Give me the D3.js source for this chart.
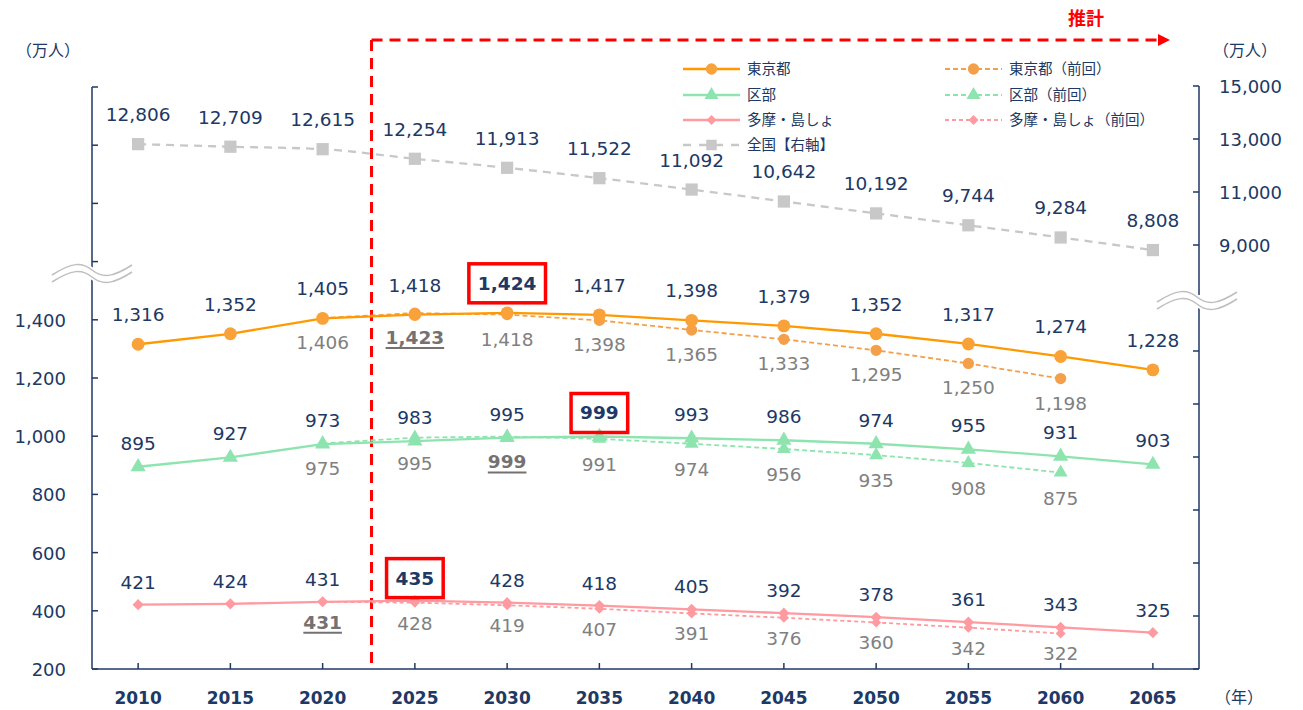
<!DOCTYPE html>
<html>
<head>
<meta charset="utf-8">
<script src="https://cdn.jsdelivr.net/npm/d3@7"></script>
<style>
  body { margin: 0; background: #fff; }
  svg text { font-family: "DejaVu Sans", "Noto Sans CJK JP", sans-serif; }
  .jp { font-family: "Noto Sans CJK JP", sans-serif; }
</style>
</head>
<body>
<svg id="chart" width="1303" height="710"></svg>
<script>
// データ
const years = [2010, 2015, 2020, 2025, 2030, 2035, 2040, 2045, 2050, 2055, 2060, 2065];
const prevYears = [2020, 2025, 2030, 2035, 2040, 2045, 2050, 2055, 2060];

const tokyo = [1316, 1352, 1405, 1418, 1424, 1417, 1398, 1379, 1352, 1317, 1274, 1228];
const tokyoPrev = [1406, 1423, 1418, 1398, 1365, 1333, 1295, 1250, 1198];
const ku = [895, 927, 973, 983, 995, 999, 993, 986, 974, 955, 931, 903];
const kuPrev = [975, 995, 999, 991, 974, 956, 935, 908, 875];
const tama = [421, 424, 431, 435, 428, 418, 405, 392, 378, 361, 343, 325];
const tamaPrev = [431, 428, 419, 407, 391, 376, 360, 342, 322];
const zenkoku = [12806, 12709, 12615, 12254, 11913, 11522, 11092, 10642, 10192, 9744, 9284, 8808];

// ピーク（強調）
const peakNow = { tokyo: 2030, ku: 2035, tama: 2025 };
const peakPrev = { tokyo: 2025, ku: 2030, tama: 2020 };

const leftTicks = d3.range(200, 2201, 200);
const leftLabelMax = 1400;
const rightTicks = d3.range(-7000, 15001, 2000);
const rightLabelMin = 9000;

const navy = "#203864";
const grayText = "#808080";

const svg = d3.select("#chart");

const x = d3.scalePoint().domain(years).range([92, 1199]).padding(0.5);
const yL = d3.scaleLinear().domain([200, 2200]).range([669, 87]);
const yR = d3.scaleLinear().domain([-7000, 15000]).range([669, 86]);

const fmt = d3.format(",");

// 系列の設定
const series = [
  { key: "tokyo", name: "東京都", vals: tokyo, yrs: years, color: "#FF9900", mcolor: "#F9A23A", dash: null, sym: "circle", up: 23, prev: false, scale: yL },
  { key: "tokyo", name: "東京都（前回）", vals: tokyoPrev, yrs: prevYears, color: "#F4A04A", mcolor: "#F4A04A", dash: "5,3", sym: "circle", down: 31, prev: true, scale: yL },
  { key: "ku", name: "区部", vals: ku, yrs: years, color: "#8EE4AF", mcolor: "#8EE4AF", dash: null, sym: "tri", up: 17, prev: false, scale: yL },
  { key: "ku", name: "区部（前回）", vals: kuPrev, yrs: prevYears, color: "#8EE4AF", mcolor: "#8EE4AF", dash: "5,3", sym: "tri", down: 32, prev: true, scale: yL },
  { key: "tama", name: "多摩・島しょ", vals: tama, yrs: years, color: "#FF9AA0", mcolor: "#FF9AA0", dash: null, sym: "dia", up: 16, prev: false, scale: yL },
  { key: "tama", name: "多摩・島しょ（前回）", vals: tamaPrev, yrs: prevYears, color: "#FF9AA0", mcolor: "#FF9AA0", dash: "4,3", sym: "dia", down: 27, prev: true, scale: yL },
  { key: "zen", name: "全国【右軸】", vals: zenkoku, yrs: years, color: "#C8C8C8", mcolor: "#C8C8C8", dash: "8,6", sym: "sq", up: 23, prev: false, scale: yR }
];

function symPath(sym, prev) {
  if (sym === "circle") return d3.symbol(d3.symbolCircle, prev ? 100 : 130)();
  if (sym === "tri") return d3.symbol(d3.symbolTriangle, prev ? 85 : 100)();
  if (sym === "dia") return d3.symbol(d3.symbolSquare, prev ? 50 : 62)();
  return d3.symbol(d3.symbolSquare, 150)();
}
function symRot(sym) { return sym === "dia" ? " rotate(45)" : ""; }

// 軸
const axisG = svg.append("g");
axisG.append("line").attr("x1", 92).attr("x2", 92).attr("y1", yL(2200)).attr("y2", 669)
  .attr("stroke", navy).attr("stroke-width", 1.5);
axisG.append("line").attr("x1", 1199).attr("x2", 1199).attr("y1", yR(15000)).attr("y2", 669)
  .attr("stroke", navy).attr("stroke-width", 1.5);
axisG.append("line").attr("x1", 92).attr("x2", 1199).attr("y1", 669).attr("y2", 669)
  .attr("stroke", navy).attr("stroke-width", 1.5);

leftTicks.forEach(t => {
  axisG.append("line").attr("x1", 92).attr("x2", 98).attr("y1", yL(t)).attr("y2", yL(t))
    .attr("stroke", navy).attr("stroke-width", 1.5);
  if (t <= leftLabelMax) {
    axisG.append("text").attr("x", 66).attr("y", yL(t) + 7).attr("text-anchor", "end")
      .attr("font-size", 18).attr("fill", navy).text(fmt(t));
  }
});
rightTicks.forEach(t => {
  axisG.append("line").attr("x1", 1193).attr("x2", 1199).attr("y1", yR(t)).attr("y2", yR(t))
    .attr("stroke", navy).attr("stroke-width", 1.5);
  if (t >= rightLabelMin) {
    axisG.append("text").attr("x", 1219).attr("y", yR(t) + 7).attr("text-anchor", "start")
      .attr("font-size", 18).attr("fill", navy).text(fmt(t));
  }
});
years.forEach(yr => {
  axisG.append("line").attr("x1", x(yr)).attr("x2", x(yr)).attr("y1", 663).attr("y2", 669)
    .attr("stroke", navy).attr("stroke-width", 1.5);
  axisG.append("text").attr("x", x(yr)).attr("y", 704).attr("text-anchor", "middle")
    .attr("font-size", 17).attr("font-weight", "bold").attr("fill", navy).text(yr);
});
svg.append("text").attr("class", "jp").attr("x", 1215).attr("y", 703).attr("font-size", 16)
  .attr("fill", navy).text("（年）");
svg.append("text").attr("class", "jp").attr("x", 48).attr("y", 56).attr("text-anchor", "middle")
  .attr("font-size", 16).attr("fill", navy).text("（万人）");
svg.append("text").attr("class", "jp").attr("x", 1245).attr("y", 56).attr("text-anchor", "middle")
  .attr("font-size", 16).attr("fill", navy).text("（万人）");

// 波線（軸の省略）
function breakMark(cx, cy) {
  const g = svg.append("g");
  const w = 40, a = 5, gap = 7;
  const wave = (oy) => `M${cx - w},${cy + oy + a} C${cx - w / 2},${cy + oy - a * 1.6} ${cx - w / 4},${cy + oy - a * 1.6} ${cx},${cy + oy} S${cx + w / 2},${cy + oy + a * 1.6} ${cx + w},${cy + oy - a}`;
  g.append("rect").attr("x", cx - 6).attr("y", cy - 2).attr("width", 12).attr("height", gap + 4).attr("fill", "#fff");
  g.append("path").attr("d", wave(0)).attr("fill", "none").attr("stroke", "#fff").attr("stroke-width", 5);
  g.append("path").attr("d", wave(gap)).attr("fill", "none").attr("stroke", "#fff").attr("stroke-width", 5);
  g.append("path").attr("d", wave(gap / 2)).attr("fill", "none").attr("stroke", "#fff").attr("stroke-width", 7);
  g.append("path").attr("d", wave(0)).attr("fill", "none").attr("stroke", "#BFBFBF").attr("stroke-width", 1.5);
  g.append("path").attr("d", wave(gap)).attr("fill", "none").attr("stroke", "#BFBFBF").attr("stroke-width", 1.5);
}
breakMark(92, 270);
breakMark(1197, 297);

// 推計
const red = "#FF0000";
const xSplit = x(2020) + x.step() * 0.53;
svg.append("line").attr("x1", xSplit).attr("x2", xSplit).attr("y1", 40).attr("y2", 669)
  .attr("stroke", red).attr("stroke-width", 3).attr("stroke-dasharray", "11,7");
svg.append("line").attr("x1", xSplit).attr("x2", 1158).attr("y1", 40).attr("y2", 40)
  .attr("stroke", red).attr("stroke-width", 3).attr("stroke-dasharray", "11,7");
svg.append("path").attr("d", "M1158,34 L1170,40 L1158,46 Z").attr("fill", red);
svg.append("text").attr("class", "jp").attr("x", 1086).attr("y", 25).attr("text-anchor", "middle")
  .attr("font-size", 18).attr("font-weight", "bold").attr("fill", red).text("推計");

// 系列描画（全国 → 前回 → 今回の順）
const order = [6, 1, 3, 5, 0, 2, 4];
order.forEach(i => {
  const s = series[i];
  const pts = s.yrs.map((yr, j) => ({ yr: yr, v: s.vals[j] }));
  const line = d3.line().x(d => x(d.yr)).y(d => s.scale(d.v))
    .curve(s.key === "zen" ? d3.curveMonotoneX : d3.curveLinear);
  svg.append("path").datum(pts).attr("d", line).attr("fill", "none")
    .attr("stroke", s.color).attr("stroke-width", s.prev ? 1.8 : 2.3)
    .attr("stroke-dasharray", s.dash);
  svg.append("g").selectAll("path").data(pts).enter().append("path")
    .attr("transform", d => `translate(${x(d.yr)},${s.scale(d.v)})` + symRot(s.sym))
    .attr("d", symPath(s.sym, s.prev))
    .attr("fill", s.mcolor);
});

// ラベル
series.forEach(s => {
  const g = svg.append("g");
  s.yrs.forEach((yr, j) => {
    const px = x(yr), py = s.scale(s.vals[j]);
    const isPeakNow = !s.prev && peakNow[s.key] === yr;
    const isPeakPrev = s.prev && peakPrev[s.key] === yr;
    const ty = s.prev ? py + s.down : py - s.up;
    const t = g.append("text").attr("x", px).attr("y", ty).attr("text-anchor", "middle")
      .attr("font-size", 18.5)
      .attr("fill", s.prev ? (isPeakPrev ? "#767171" : grayText) : navy)
      .attr("font-weight", (isPeakNow || isPeakPrev) ? "bold" : "normal")
      .text(fmt(s.vals[j]));
    if (isPeakPrev) {
      const b = t.node().getBBox();
      g.append("line").attr("x1", b.x).attr("x2", b.x + b.width).attr("y1", ty + 4).attr("y2", ty + 4)
        .attr("stroke", "#767171").attr("stroke-width", 2);
    }
    if (isPeakNow) {
      const b = t.node().getBBox();
      g.append("rect").attr("x", b.x - 9).attr("y", b.y - 9).attr("width", b.width + 18)
        .attr("height", b.height + 18).attr("fill", "none").attr("stroke", red).attr("stroke-width", 3.5);
    }
  });
});

// 凡例
const legend = svg.append("g");
const legendItems = [
  { s: series[0], lx: 683, ly: 69 }, { s: series[1], lx: 945, ly: 69 },
  { s: series[2], lx: 683, ly: 95 }, { s: series[3], lx: 945, ly: 95 },
  { s: series[4], lx: 683, ly: 120 }, { s: series[5], lx: 945, ly: 120 },
  { s: series[6], lx: 683, ly: 145 }
];
legendItems.forEach(d => {
  const s = d.s;
  legend.append("line").attr("x1", d.lx).attr("x2", d.lx + 57).attr("y1", d.ly).attr("y2", d.ly)
    .attr("stroke", s.color).attr("stroke-width", s.prev ? 1.8 : 2.3)
    .attr("stroke-dasharray", s.key === "zen" ? "8,8" : s.dash);
  legend.append("path").attr("transform", `translate(${d.lx + 28.5},${d.ly})` + symRot(s.sym))
    .attr("d", s.key === "zen" ? d3.symbol(d3.symbolSquare, 110)() : symPath(s.sym, true))
    .attr("fill", s.mcolor);
  legend.append("text").attr("class", "jp").attr("x", d.lx + 64).attr("y", d.ly + 5)
    .attr("font-size", 14.5).attr("fill", navy).text(s.name);
});
</script>
</body>
</html>
